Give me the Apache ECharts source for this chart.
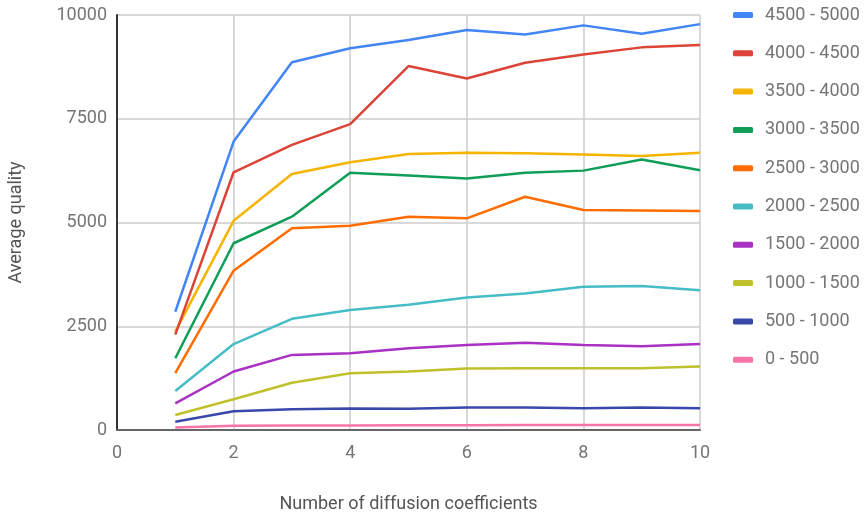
<!DOCTYPE html>
<html>
<head>
<meta charset="utf-8">
<script src="https://cdn.jsdelivr.net/npm/echarts@6/dist/echarts.min.js"></script>
<style>
  html, body { margin: 0; padding: 0; background: #fff; }
  #chart { width: 865px; height: 513px; }
</style>
</head>
<body>
<div id="chart"></div>
<script>
// Number of diffusion coefficients (x)
const coefficients = [1, 2, 3, 4, 5, 6, 7, 8, 9, 10];

// Average quality per range, one array per range
const q4500_5000 = [2850, 6950, 8860, 9200, 9400, 9640, 9530, 9750, 9550, 9780];
const q4000_4500 = [2300, 6210, 6870, 7370, 8770, 8470, 8850, 9050, 9220, 9280];
const q3500_4000 = [2370, 5040, 6170, 6450, 6650, 6680, 6670, 6640, 6600, 6680];
const q3000_3500 = [1730, 4500, 5140, 6200, 6130, 6060, 6200, 6250, 6520, 6260];
const q2500_3000 = [1370, 3840, 4860, 4920, 5140, 5100, 5620, 5300, 5290, 5280];
const q2000_2500 = [940, 2070, 2680, 2890, 3020, 3190, 3290, 3450, 3470, 3370];
const q1500_2000 = [640, 1410, 1810, 1850, 1970, 2050, 2100, 2050, 2020, 2070];
const q1000_1500 = [360, 740, 1140, 1370, 1410, 1480, 1490, 1490, 1490, 1530];
const q500_1000  = [200, 450, 500, 520, 515, 540, 545, 525, 540, 525];
const q0_500     = [60, 100, 110, 110, 115, 115, 120, 120, 120, 120];

const rangeNames = ['4500 - 5000', '4000 - 4500', '3500 - 4000', '3000 - 3500', '2500 - 3000',
                    '2000 - 2500', '1500 - 2000', '1000 - 1500', '500 - 1000', '0 - 500'];
const rangeValues = [q4500_5000, q4000_4500, q3500_4000, q3000_3500, q2500_3000,
                     q2000_2500, q1500_2000, q1000_1500, q500_1000, q0_500];
const rangeColors = ['#4285F4', '#DB4437', '#F4B400', '#0F9D58', '#FF6D00',
                     '#46BDC6', '#AB30C4', '#C0C02C', '#3949AB', '#F774A8'];

const yTicks = [0, 2500, 5000, 7500, 10000];
const xTicks = [0, 2, 4, 6, 8, 10];

const font = 'Roboto';
const chart = echarts.init(document.getElementById('chart'), null, { renderer: 'canvas' });

const series = rangeNames.map((name, i) => ({
  name: name,
  type: 'line',
  showSymbol: false,
  symbol: 'none',
  data: coefficients.map((c, j) => [c, rangeValues[i][j]]),
  lineStyle: { width: 2.5, color: rangeColors[i] },
  itemStyle: { color: rangeColors[i] },
  z: 10 - i
})).reverse();

chart.setOption({
  animation: false,
  backgroundColor: '#fff',
  textStyle: { fontFamily: font },
  grid: { left: 117, right: 165, top: 15, bottom: 83, containLabel: false, outerBoundsMode: 'none' },
  legend: {
    orient: 'vertical',
    left: 733,
    top: 6,
    padding: 0,
    data: rangeNames,
    icon: 'roundRect',
    itemWidth: 20,
    itemHeight: 6,
    itemGap: 20.3,
    textStyle: { fontFamily: font, fontSize: 18, color: '#757575', lineHeight: 18, padding: [0, 0, 0, 7] }
  },
  xAxis: {
    type: 'value',
    min: xTicks[0],
    max: xTicks[xTicks.length - 1],
    interval: 2,
    name: 'Number of diffusion coefficients',
    nameLocation: 'middle',
    nameGap: 65,
    nameTextStyle: { fontFamily: font, fontSize: 18, color: '#555' },
    axisLine: { show: true, lineStyle: { color: '#666', width: 2 } },
    axisTick: { show: false },
    axisLabel: { fontFamily: font, fontSize: 18, color: '#757575', margin: 14 },
    splitLine: { show: true, lineStyle: { color: '#cccccc', width: 1.5 } }
  },
  yAxis: {
    type: 'value',
    min: yTicks[0],
    max: yTicks[yTicks.length - 1],
    interval: 2500,
    name: 'Average quality',
    nameLocation: 'middle',
    nameGap: 92,
    nameTextStyle: { fontFamily: font, fontSize: 18, color: '#555' },
    axisLine: { show: true, lineStyle: { color: '#333', width: 2 } },
    axisTick: { show: false },
    axisLabel: { fontFamily: font, fontSize: 18, color: '#757575', margin: 10,
                 formatter: v => String(v) },
    splitLine: { show: true, lineStyle: { color: '#cccccc', width: 1.5 } }
  },
  series: series
});
</script>
</body>
</html>
